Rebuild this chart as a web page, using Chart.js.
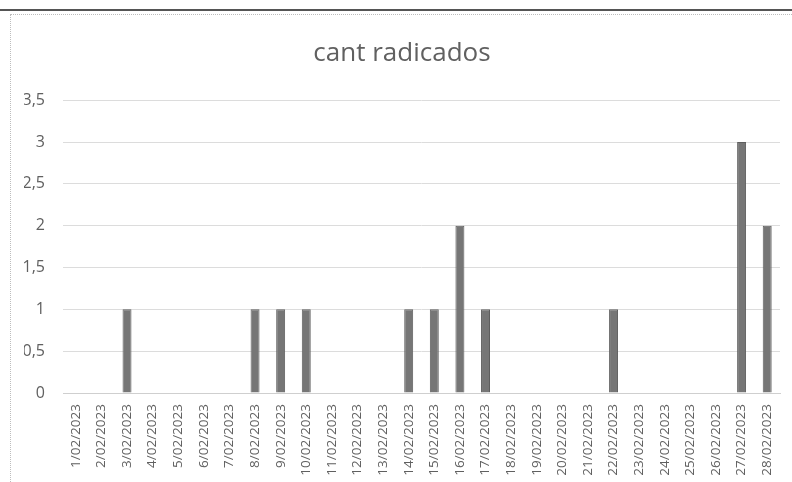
<!DOCTYPE html>
<html>
<head>
<meta charset="utf-8">
<script src="https://cdn.jsdelivr.net/npm/chart.js@4"></script>
<style>
  html,body{margin:0;padding:0;background:#fff;}
  #wrap{position:relative;width:792px;height:482px;overflow:hidden;}
  #topline{position:absolute;left:0;top:9px;width:792px;height:2px;background:#555;}
  #frame{position:absolute;left:10px;top:14px;width:800px;height:470px;border:1px dotted #bdbdbd;}
  #c{position:absolute;left:0;top:0;}
</style>
</head>
<body>
<div id="wrap">
  <div id="topline"></div>
  <div id="frame"></div>
  <canvas id="c" width="792" height="482"></canvas>
</div>
<script>
// ===== Data =====
const days = ["1/02/2023","2/02/2023","3/02/2023","4/02/2023","5/02/2023","6/02/2023","7/02/2023",
  "8/02/2023","9/02/2023","10/02/2023","11/02/2023","12/02/2023","13/02/2023","14/02/2023",
  "15/02/2023","16/02/2023","17/02/2023","18/02/2023","19/02/2023","20/02/2023","21/02/2023",
  "22/02/2023","23/02/2023","24/02/2023","25/02/2023","26/02/2023","27/02/2023","28/02/2023"];
const radicados = [0,0,1,0,0,0,0, 1,1,1,0,0,0,1, 1,2,1,0,0,0,0, 1,0,0,0,0,3,2];
const chartTitle = "cant radicados";

const txt = "#606060";
new Chart(document.getElementById("c"), {
  type: "bar",
  data: {
    labels: days,
    datasets: [{
      label: chartTitle,
      data: radicados,
      backgroundColor: "#767676",
      borderColor: "#5e5e5e",
      borderWidth: 1,
      barPercentage: 0.35,
      categoryPercentage: 1
    }]
  },
  options: {
    responsive: false,
    animation: false,
    layout: {padding: {left: 24, right: 12, top: 0, bottom: 1}},
    plugins: {
      legend: {display: false},
      tooltip: {enabled: false},
      title: {
        display: true, text: chartTitle, color: txt,
        font: {family: "Open Sans", size: 26, weight: "normal"},
        padding: {top: 38, bottom: 31}
      }
    },
    scales: {
      x: {
        grid: {display: false},
        border: {color: "#cfcfcf"},
        afterFit: s => { s.height = 88; },
        ticks: {color: txt, font: {family: "Open Sans", size: 13.5}, minRotation: 90, maxRotation: 90, autoSkip: false}
      },
      y: {
        min: 0, max: 3.5,
        grid: {color: "#dcdcdc", drawTicks: false},
        border: {display: false},
        afterFit: s => { s.width = 39; },
        ticks: {
          stepSize: 0.5, color: txt, padding: 18,
          font: {family: "Open Sans", size: 16},
          callback: v => String(v).replace(".", ",")
        }
      }
    }
  }
});
</script>
</body>
</html>
